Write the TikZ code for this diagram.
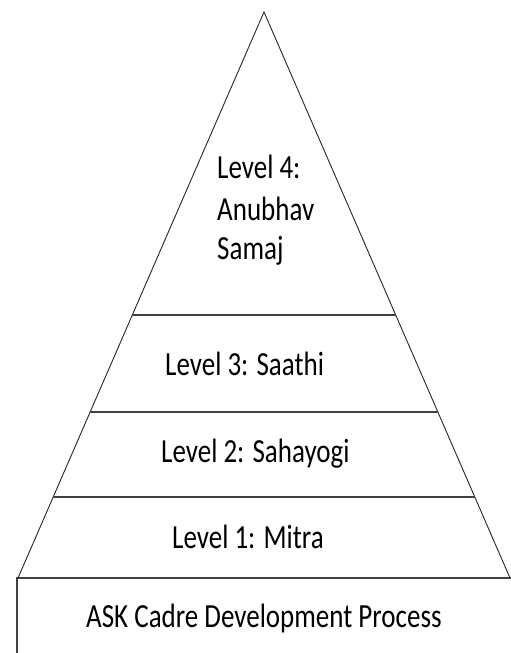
\documentclass[tikz,border=0pt]{standalone}
\usepackage{fontspec}
\setmainfont{Carlito}
\usetikzlibrary{calc}
\begin{document}
\begin{tikzpicture}[x=1pt,y=-1pt,
  edge/.style={draw=black!85, line width=0.9pt},
  sep/.style={draw=black!75, line width=1.6pt},
  lbl/.style={font=\fontsize{27}{27}\selectfont, inner sep=0pt, anchor=base west, yscale=1.25, transform shape}]
\useasboundingbox (0,0) rectangle (511,653);
\clip (0,0) rectangle (511,653);
\coordinate (apex) at (264,12);
\coordinate (bl) at (18,578);
\coordinate (br) at (510,578);
% box
\draw[sep] (17,680) -- (17,578) -- (530,578);
% triangle
\draw[edge] (bl) -- (apex) -- (br);
% separators
\draw[sep] ($(apex)!{303/566}!(bl)$) -- ($(apex)!{303/566}!(br)$);
\draw[sep] ($(apex)!{400/566}!(bl)$) -- ($(apex)!{400/566}!(br)$);
\draw[sep] ($(apex)!{485/566}!(bl)$) -- ($(apex)!{485/566}!(br)$);
% labels
\node[lbl] (l4a) at (217,178) {Level 4:};
\node[lbl] (l4b) at (217,220) {Anubhav};
\node[lbl] (l4c) at (217,259) {Samaj};
\node[lbl] (l3) at (165,375) {Level 3: Saathi};
\node[lbl] (l2) at (161,462) {Level 2: Sahayogi};
\node[lbl] (l1) at (172,548) {Level 1: Mitra};
\node[lbl] (ask) at (86,627) {ASK Cadre Development Process};
\end{tikzpicture}
\end{document}
